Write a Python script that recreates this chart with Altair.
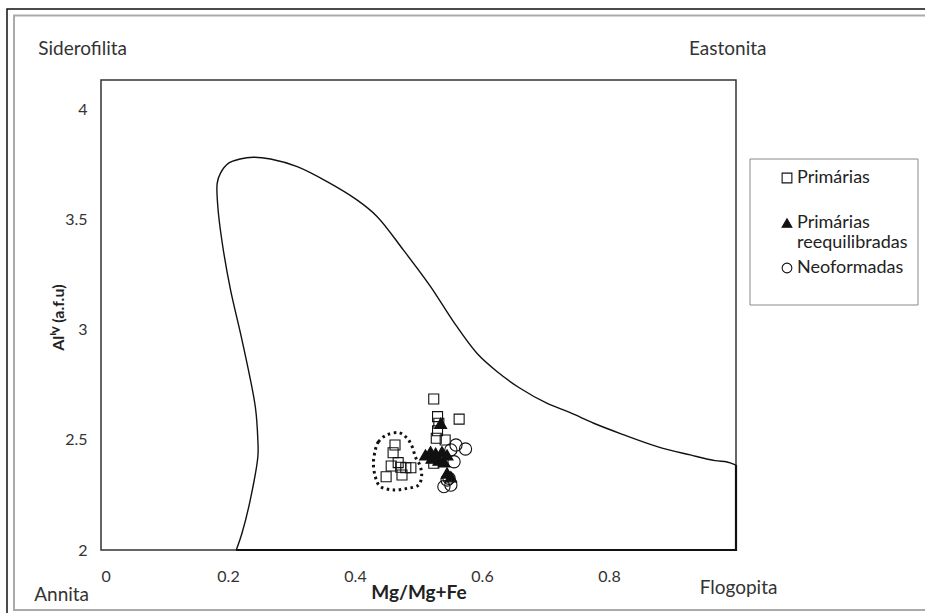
import altair as alt
import pandas as pd

# Biotite compositions: Mg/(Mg+Fe) vs Al(IV) in atoms per formula unit
prim_x = [0.524, 0.564, 0.530, 0.532, 0.530, 0.528, 0.542, 0.524,
          0.463, 0.460, 0.457, 0.468, 0.472, 0.480, 0.488, 0.449, 0.474]
prim_y = [2.686, 2.595, 2.606, 2.576, 2.542, 2.508, 2.500, 2.394,
          2.477, 2.442, 2.382, 2.397, 2.376, 2.374, 2.374, 2.333, 2.341]

reeq_x = [0.511, 0.519, 0.527, 0.537, 0.532, 0.540, 0.545, 0.551, 0.545, 0.535, 0.521]
reeq_y = [2.432, 2.447, 2.440, 2.447, 2.409, 2.401, 2.432, 2.333, 2.350, 2.576, 2.418]

neo_x = [0.574, 0.559, 0.551, 0.556, 0.548, 0.545, 0.540, 0.551]
neo_y = [2.459, 2.477, 2.455, 2.401, 2.326, 2.318, 2.288, 2.295]

groups = ["Primárias", "Primárias reequilibradas", "Neoformadas"]

# Outline of the biotite compositional field
field_x = [0.213, 0.222, 0.235, 0.247, 0.247, 0.243, 0.222, 0.204, 0.191, 0.184,
           0.183, 0.188, 0.201, 0.219, 0.240, 0.267, 0.309, 0.356, 0.403, 0.435,
           0.476, 0.519, 0.555, 0.592, 0.624, 0.660, 0.702, 0.739, 0.776, 0.820,
           0.876, 0.928, 0.967, 0.986, 1.000]
field_y = [2.000, 2.076, 2.227, 2.424, 2.500, 2.651, 2.955, 3.182, 3.394, 3.560,
           3.667, 3.712, 3.758, 3.777, 3.785, 3.777, 3.742, 3.674, 3.591, 3.515,
           3.364, 3.197, 3.038, 2.894, 2.810, 2.735, 2.667, 2.624, 2.576, 2.527,
           2.470, 2.432, 2.406, 2.400, 2.386]
edge_x = [1.000, 1.000, 0.213]
edge_y = [2.386, 2.000, 2.000]

# Dotted envelope around the low-Mg primary group
env_x = [0.432, 0.437, 0.450, 0.469, 0.482, 0.490, 0.495, 0.502, 0.505, 0.500,
         0.482, 0.461, 0.440, 0.432, 0.429]
env_y = [2.455, 2.492, 2.523, 2.533, 2.508, 2.470, 2.424, 2.386, 2.341, 2.295,
         2.280, 2.273, 2.288, 2.333, 2.394]

# End-member names at the corners of the diagram
end_names = ["Siderofilita", "Eastonita", "Annita", "Flogopita"]
end_x = [-0.029, 0.987, -0.062, 1.004]
end_y = [4.278, 4.278, 1.795, 1.827]

x_ticks = [0, 0.2, 0.4, 0.6, 0.8]
y_ticks = [2, 2.5, 3, 3.5, 4]

FONT = "Lato"
W, H = 635, 470

prim = pd.DataFrame({"x": prim_x, "y": prim_y, "grupo": groups[0]})
reeq = pd.DataFrame({"x": reeq_x, "y": reeq_y, "grupo": groups[1]})
neo = pd.DataFrame({"x": neo_x, "y": neo_y, "grupo": groups[2]})

field = pd.DataFrame({"x": field_x, "y": field_y, "i": range(len(field_x))})
edge = pd.DataFrame({"x": edge_x, "y": edge_y, "i": range(len(edge_x))})
env = pd.DataFrame({"x": env_x, "y": env_y, "i": range(len(env_x))})
ends = pd.DataFrame({"label": end_names, "x": end_x, "y": end_y})

xs = alt.Scale(domain=[0, 1], nice=False, zero=False)
ys = alt.Scale(domain=[2, 4.136], nice=False, zero=False)

x_axis = alt.Axis(values=x_ticks, title="Mg/Mg+Fe", grid=False, ticks=False, domain=False,
                  labelFont=FONT, labelFontSize=16, labelColor="#333", labelPadding=18,
                  labelExpr="datum.value == 0 ? '0' : format(datum.value, '.1f')",
                  titleFont=FONT, titleFontSize=19, titleFontWeight="bold", titleColor="#222",
                  titleY=48, titleBaseline="alphabetic")
y_axis = alt.Axis(values=y_ticks, title="Alᴵⱽ (a.f.u)", grid=False, ticks=False, domain=False,
                  labelFont=FONT, labelFontSize=16, labelColor="#333", labelPadding=14,
                  labelExpr="format(datum.value, '')",
                  titleFont=FONT, titleFontSize=16, titleFontWeight="bold", titleColor="#222",
                  titleX=-38, titleY=237, titleAngle=270, titleAlign="center",
                  titleBaseline="alphabetic")

# Frame around the figure and the legend box
frame_outer = alt.Chart(pd.DataFrame({"k": [0]})).mark_rect(
    fill=None, stroke="#111", strokeWidth=1.5
).encode(x=alt.value(-94), x2=alt.value(830), y=alt.value(-71), y2=alt.value(545))
frame_inner = alt.Chart(pd.DataFrame({"k": [0]})).mark_rect(
    fill=None, stroke="#aaa", strokeWidth=2
).encode(x=alt.value(-87), x2=alt.value(830), y=alt.value(-64.5), y2=alt.value(530))
legend_box = alt.Chart(pd.DataFrame({"k": [0]})).mark_rect(
    fill=None, stroke="#888", strokeWidth=1
).encode(x=alt.value(649), x2=alt.value(817), y=alt.value(79), y2=alt.value(225))

field_line = alt.Chart(field).mark_line(
    color="#111", strokeWidth=1.4, interpolate="catmull-rom"
).encode(x=alt.X("x:Q", scale=xs, axis=x_axis), y=alt.Y("y:Q", scale=ys, axis=y_axis),
         order="i:O")
edge_line = alt.Chart(edge).mark_line(color="#111", strokeWidth=2.2).encode(
    x=alt.X("x:Q", scale=xs), y=alt.Y("y:Q", scale=ys), order="i:O")
env_line = alt.Chart(env).mark_line(
    color="#111", strokeWidth=3, strokeDash=[2.5, 3.5], interpolate="cardinal-closed"
).encode(x=alt.X("x:Q", scale=xs), y=alt.Y("y:Q", scale=ys), order="i:O")

# Two-line entry for the re-equilibrated group; the first entry gets a blank
# second line so the rows are evenly spaced
label_expr = ("datum.label == 'Primárias reequilibradas' ? ['Primárias', 'reequilibradas'] : "
              "datum.label == 'Primárias' ? ['Primárias', ' '] : datum.label")
leg = alt.Legend(title=None, labelExpr=label_expr)

shape_enc = alt.Shape("grupo:N",
                      scale=alt.Scale(domain=groups, range=["square", "triangle-up", "circle"]),
                      legend=leg)
fill_enc = alt.Fill("grupo:N",
                    scale=alt.Scale(domain=groups,
                                    range=["rgba(0,0,0,0)", "#111", "rgba(0,0,0,0)"]),
                    legend=leg)
stroke_enc = alt.Stroke("grupo:N",
                        scale=alt.Scale(domain=groups, range=["#111", "#111", "#111"]),
                        legend=leg)


def group_layer(df, size):
    return alt.Chart(df).mark_point(strokeWidth=1.1, opacity=1, size=size).encode(
        x=alt.X("x:Q", scale=xs), y=alt.Y("y:Q", scale=ys),
        shape=shape_enc, fill=fill_enc, stroke=stroke_enc)


ends_text = alt.Chart(ends).mark_text(font=FONT, fontSize=19, color="#333").encode(
    x=alt.X("x:Q", scale=xs), y=alt.Y("y:Q", scale=ys), text="label:N")

chart = alt.layer(
    frame_outer, frame_inner, legend_box, field_line, edge_line, env_line,
    group_layer(neo, 150), group_layer(reeq, 140), group_layer(prim, 100), ends_text
).properties(
    width=W, height=H,
    autosize=alt.AutoSizeParams(type="none"),
    padding={"left": 101, "top": 80, "right": 189, "bottom": 63},
    background="white",
).configure_view(
    stroke="#333", strokeWidth=1.5
).configure_legend(
    orient="none", legendX=677, legendY=89, padding=0,
    labelFont=FONT, labelFontSize=18, labelColor="#222", labelBaseline="middle",
    labelOffset=1, rowPadding=7, symbolSize=95,
    symbolStrokeWidth=1.1, labelLimit=200,
)

chart.save("out.html", embed_options={"renderer": "svg", "actions": False})
